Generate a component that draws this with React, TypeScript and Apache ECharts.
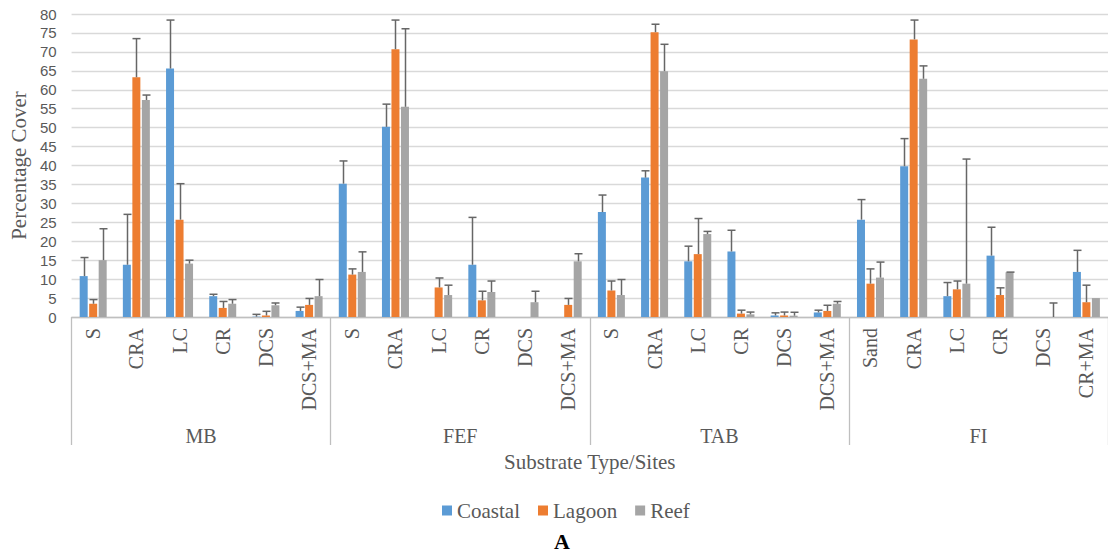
import React, { useEffect, useRef } from "react";
import * as echarts from "echarts";

const categories = [
  "S", "CRA", "LC", "CR", "DCS", "DCS+MA",
  "S", "CRA", "LC", "CR", "DCS", "DCS+MA",
  "S", "CRA", "LC", "CR", "DCS", "DCS+MA",
  "Sand", "CRA", "LC", "CR", "DCS", "CR+MA",
];
const groups = ["MB", "FEF", "TAB", "FI"];
const seriesNames = ["Coastal", "Lagoon", "Reef"];
const colors = ["#5B9BD5", "#ED7D31", "#A5A5A5"];

const coastal = [
  10.8, 13.8, 65.6, 5.5, 0.1, 1.6,
  35.2, 50.2, 0, 13.8, 0, 0,
  27.7, 36.8, 14.7, 17.3, 0.4, 1.2,
  25.7, 39.8, 5.5, 16.2, 0, 11.9,
];
const coastalErr = [
  4.9, 13.3, 12.8, 0.5, 0.6, 1.0,
  6.0, 6.0, 0, 12.5, 0, 0,
  4.5, 1.8, 4.0, 5.6, 0.7, 0.6,
  5.3, 7.3, 3.6, 7.5, 0, 5.7,
];
const lagoon = [
  3.5, 63.3, 25.7, 2.4, 0.4, 3.2,
  11.2, 70.7, 7.8, 4.4, 0, 3.2,
  7.0, 75.2, 16.6, 0.9, 0.4, 1.6,
  8.8, 73.3, 7.3, 5.8, 0, 3.9,
];
const lagoonErr = [
  1.1, 10.2, 9.5, 1.7, 1.1, 1.7,
  1.5, 7.7, 2.5, 2.4, 0, 1.7,
  2.5, 2.1, 9.4, 0.9, 0.9, 1.5,
  3.9, 5.1, 2.2, 1.9, 0, 4.5,
];
const reef = [
  15.0, 57.3, 14.1, 3.5, 3.1, 5.5,
  11.9, 55.5, 5.8, 6.6, 3.9, 14.7,
  5.8, 64.9, 21.9, 0.7, 0.35, 3.5,
  10.4, 62.9, 8.8, 11.8, 0, 5.0,
];
const reefErr = [
  8.3, 1.3, 0.9, 1.1, 0.6, 4.4,
  5.3, 20.6, 2.6, 2.9, 2.9, 2.0,
  4.1, 7.1, 0.7, 0.6, 0.9, 0.6,
  4.1, 3.4, 32.9, 0.05, 3.7, 0,
];

const yTicks = { min: 0, max: 80, interval: 5 };

const SERIF = "Times New Roman, Liberation Serif, DejaVu Serif";
const SANS = "Liberation Sans";
const TEXT = "#595959";
const BAR_W = 8;
const BAR_GAP_PX = 1.5;

export default function App() {
  const ref = useRef<HTMLDivElement>(null);
  useEffect(() => {
    if (!ref.current) return;
    const chart = echarts.init(ref.current, undefined, { renderer: "svg" });
    const values = [coastal, lagoon, reef];
    const errs = [coastalErr, lagoonErr, reefErr];

    const barSeries = values.map((vals, k) => ({
      name: seriesNames[k],
      type: "bar",
      xAxisIndex: 0,
      data: vals,
      barWidth: BAR_W,
      barGap: `${(BAR_GAP_PX / BAR_W) * 100}%`,
      itemStyle: { color: colors[k] },
      z: 2,
    }));

    const errSeries = values.map((vals, k) => ({
      name: seriesNames[k] + " error",
      type: "custom",
      xAxisIndex: 0,
      z: 3,
      encode: { x: 0, y: 1 },
      data: vals.map((v, i) => [i, v, errs[k][i]]),
      renderItem: (params: any, api: any) => {
        const idx = api.value(0);
        const v = api.value(1);
        const e = api.value(2);
        if (!(e > 0)) return null;
        const p0 = api.coord([idx, v]);
        const p1 = api.coord([idx, v + e]);
        const off = (k - 1) * (BAR_W + BAR_GAP_PX);
        const x = Math.round(p0[0] + off) + 0.5;
        const style = { stroke: "#666666", lineWidth: 1.5 };
        return {
          type: "group",
          children: [
            { type: "line", shape: { x1: x, y1: p0[1], x2: x, y2: p1[1] }, style },
            { type: "line", shape: { x1: x - 4, y1: p1[1], x2: x + 4, y2: p1[1] }, style },
          ],
        };
      },
    }));

    chart.setOption({
      animation: false,
      textStyle: { fontFamily: SERIF },
      grid: { left: 68, right: -8, top: 14, bottom: 240, containLabel: false },
      legend: {
        data: seriesNames,
        bottom: 31,
        left: 437,
        itemWidth: 10,
        itemHeight: 10,
        itemGap: 18,
        icon: "rect",
        textStyle: { fontFamily: SERIF, fontSize: 21, color: TEXT },
      },
      graphic: [
        {
          type: "text",
          x: 562,
          y: 541,
          style: {
            text: "A",
            fontFamily: SERIF,
            fontSize: 22,
            fontWeight: "bold",
            fill: "#000",
            textAlign: "center",
            textVerticalAlign: "middle",
          },
        },
      ],
      xAxis: [
        {
          type: "category",
          data: categories,
          position: "bottom",
          axisLine: { show: true, lineStyle: { color: "#bfbfbf", width: 1.3 } },
          axisTick: { show: false },
          axisLabel: {
            interval: 0,
            rotate: 90,
            margin: 11,
            fontFamily: SERIF,
            fontSize: 20,
            color: TEXT,
          },
        },
        {
          type: "category",
          data: groups,
          position: "bottom",
          axisLine: { show: false },
          axisTick: { show: true, length: 128, interval: 0, lineStyle: { color: "#bfbfbf", width: 1.3 } },
          axisLabel: {
            interval: 0,
            margin: 109,
            fontFamily: SERIF,
            fontSize: 20,
            color: TEXT,
          },
          name: "Substrate Type/Sites",
          nameLocation: "middle",
          nameGap: 134,
          nameTextStyle: { fontFamily: SERIF, fontSize: 21, color: TEXT },
        },
      ],
      yAxis: {
        type: "value",
        min: yTicks.min,
        max: yTicks.max,
        interval: yTicks.interval,
        axisLine: { show: false },
        axisTick: { show: false },
        splitLine: { lineStyle: { color: "#d9d9d9", width: 1.3 } },
        axisLabel: { fontFamily: SANS, fontSize: 15, color: TEXT, margin: 15 },
        name: "Percentage Cover",
        nameLocation: "middle",
        nameGap: 38,
        nameTextStyle: { fontFamily: SERIF, fontSize: 21, color: TEXT },
      },
      series: [...barSeries, ...errSeries],
    });
    return () => chart.dispose();
  }, []);
  return (
    <div
      ref={ref}
      style={{ position: "fixed", left: 0, top: 0, width: 1108, height: 557, background: "#fff" }}
    />
  );
}
